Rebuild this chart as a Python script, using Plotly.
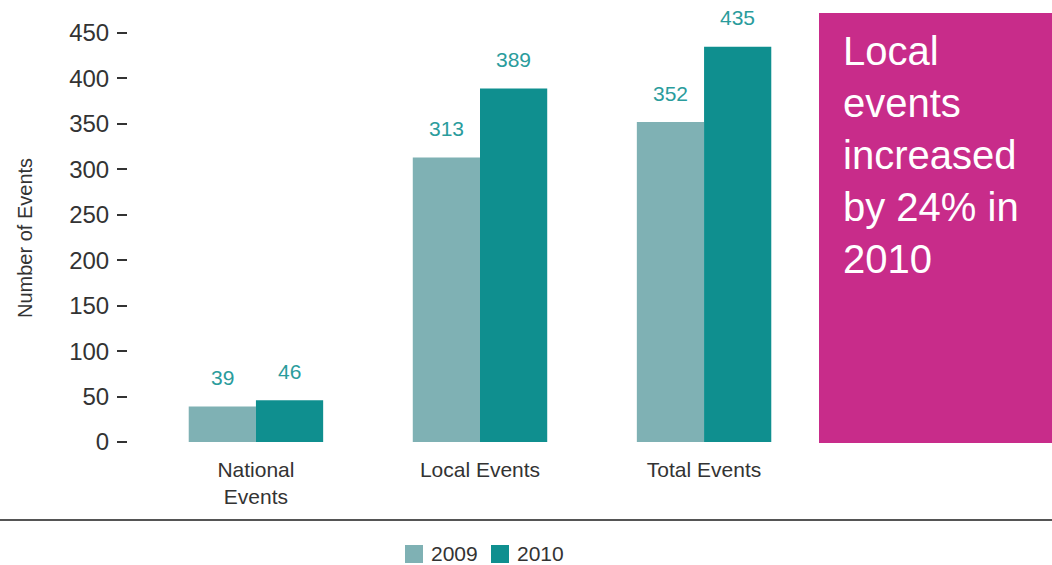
import plotly.graph_objects as go

categories = ["National<br>Events", "Local Events", "Total Events"]
years = ["2009", "2010"]
values_2009 = [39, 313, 352]
values_2010 = [46, 389, 435]
y_ticks = [0, 50, 100, 150, 200, 250, 300, 350, 400, 450]
y_title = "Number of Events"
callout = "Local<br>events<br>increased<br>by 24% in<br>2010"

W, H = 1052, 565
FONT = "Liberation Sans, Arial, sans-serif"
C2009 = "#7fb1b4"
C2010 = "#0f8f8f"
LABEL_C = "#2a9c9c"
MAGENTA = "#c82c8a"
TEXT_C = "#333333"
colors = [C2009, C2010]

fig = go.Figure()
for name, vals, col in [(years[0], values_2009, C2009), (years[1], values_2010, C2010)]:
    fig.add_trace(go.Bar(name=name, x=categories, y=vals, showlegend=False,
                         marker=dict(color=col, line=dict(width=0))))

# value labels
annos = []
for vals, off in [(values_2009, -0.15), (values_2010, 0.15)]:
    for i, v in enumerate(vals):
        annos.append(dict(x=i + off, y=v, xref="x", yref="y", text=str(v), showarrow=False,
                          yanchor="middle", yshift=29,
                          font=dict(family=FONT, size=21, color=LABEL_C)))

# y title
annos.append(dict(x=25 / W, y=(H - 238) / H, xref="paper", yref="paper", text=y_title,
                  textangle=-90, showarrow=False, xanchor="center", yanchor="middle",
                  font=dict(family=FONT, size=20, color=TEXT_C)))
# callout text
annos.append(dict(x=841 / W, y=(H - 27) / H, xref="paper", yref="paper", text=callout,
                  showarrow=False, xanchor="left", yanchor="top", align="left",
                  font=dict(family=FONT, size=40, color="white")))

shapes = [
    dict(type="rect", xref="paper", yref="paper", x0=819 / W, x1=1.0,
         y0=(H - 443) / H, y1=(H - 13) / H, fillcolor=MAGENTA, line=dict(width=0), layer="below"),
    dict(type="line", xref="paper", yref="paper", x0=0, x1=1,
         y0=(H - 520) / H, y1=(H - 520) / H, line=dict(color="#555555", width=2)),
]

# legend (drawn manually so the swatch size matches)
leg_x = [405, 491]
for yr, col, lx in zip(years, colors, leg_x):
    shapes.append(dict(type="rect", xref="paper", yref="paper", x0=lx / W, x1=(lx + 18) / W,
                       y0=(H - 563) / H, y1=(H - 545) / H, fillcolor=col, line=dict(width=0)))
    annos.append(dict(x=(lx + 24) / W, y=(H - 553) / H, xref="paper", yref="paper", text=yr,
                      showarrow=False, xanchor="left", yanchor="middle",
                      font=dict(family=FONT, size=21, color=TEXT_C)))

fig.update_layout(
    width=W, height=H,
    margin=dict(l=0, r=0, t=0, b=0, autoexpand=False),
    paper_bgcolor="white", plot_bgcolor="rgba(0,0,0,0)",
    barmode="group", bargap=0.4, bargroupgap=0,
    font=dict(family=FONT, color=TEXT_C),
    showlegend=False,
    xaxis=dict(domain=[128 / W, 819 / W], range=[-0.571, 2.513], type="category",
               showgrid=False, zeroline=False, showline=False, ticks="",
               tickfont=dict(size=21, color=TEXT_C), ticklabelstandoff=13, automargin=False),
    yaxis=dict(domain=[(H - 442) / H, (H - 33) / H], range=[0, 450],
               tickvals=y_ticks, ticks="outside", ticklen=10, tickwidth=1.5, tickcolor=TEXT_C,
               showgrid=False, zeroline=False, showline=False,
               tickfont=dict(size=24, color=TEXT_C), ticklabelstandoff=3, automargin=False),
    annotations=annos,
    shapes=shapes,
)

post = (
    "var s=document.createElement('style');"
    "s.innerHTML='html,body{margin:0;padding:0;overflow:hidden;}';"
    "document.head.appendChild(s);"
)
fig.write_html("out.html", config={"displayModeBar": False}, post_script=post)
